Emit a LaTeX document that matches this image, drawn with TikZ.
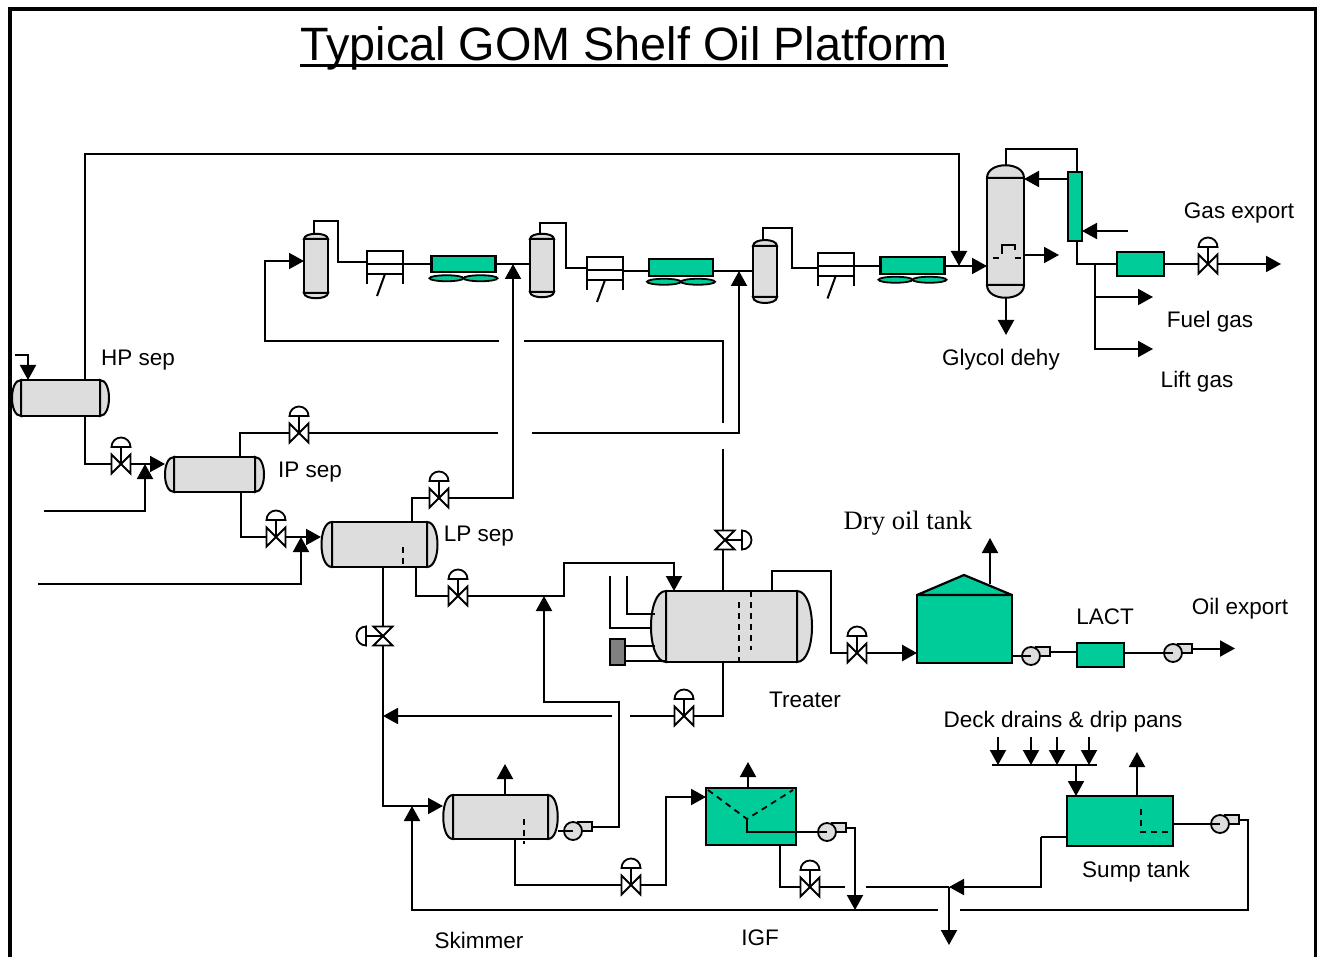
\documentclass[tikz,border=0pt]{standalone}
\usepackage{fontspec}
\setmainfont{Liberation Sans}
\newfontfamily\timesface{Liberation Serif}
\usetikzlibrary{arrows.meta, positioning, shapes.geometric}

\definecolor{vesselgray}{RGB}{221,221,221}
\definecolor{heatergray}{RGB}{128,128,128}
\definecolor{unitgreen}{RGB}{0,204,153}

\newcommand{\titleline}[1]{\setbox0\hbox{#1}\rlap{\rule[-6.5pt]{\wd0}{3pt}}\box0}

% name, position, width, height, head
\newcommand{\hdrum}[5]{
  \node[drum, minimum width=#3pt, minimum height=#4pt] (#1) at (#2) {};
  \draw[drumhead] (#1.north west) .. controls +(-#5,0) and +(-#5,0) .. (#1.south west) -- cycle;
  \draw[drumhead] (#1.north east) .. controls +(#5,0) and +(#5,0) .. (#1.south east) -- cycle;
}
\newcommand{\vdrum}[5]{
  \node[drum, minimum width=#3pt, minimum height=#4pt] (#1) at (#2) {};
  \draw[drumhead] (#1.north west) .. controls +(0,-#5) and +(0,-#5) .. (#1.north east) -- cycle;
  \draw[drumhead] (#1.south west) .. controls +(0,#5) and +(0,#5) .. (#1.south east) -- cycle;
}
% name, position, rotation of the actuator
\newcommand{\valve}[3]{
  \node[valvebody] (#1) at (#2) {};
  \draw[trim, fill=white, shift={(#2)}, rotate=#3] (-9.5,-9.5) -- (9.5,9.5) -- (9.5,-9.5) -- (-9.5,9.5) -- cycle;
  \draw[trim, shift={(#2)}, rotate=#3] (0,0) -- (0,-17);
  \draw[trim, fill=white, shift={(#2)}, rotate=#3] (9.5,-17) arc[start angle=0, end angle=180, radius=9.5pt] -- cycle;
}
\newcommand{\pump}[2]{
  \node[pumpcase, minimum width=14pt, minimum height=9pt, inner sep=0pt, rectangle] (#1-out) at (#2) [xshift=12pt, yshift=4.5pt] {};
  \node[pumpcase, circle, minimum size=18pt] (#1) at (#2) {};
}
\newcommand{\compressor}[2]{
  \node[stage] (#1) at (#2) {};
  \draw[pipe] ([yshift=-1.5pt]#1.west) -- ([yshift=-1.5pt]#1.east);
  \draw[pipe] (#1.south west) -- ++(0,10);
  \draw[pipe] (#1.south east) -- ++(0,10);
  \draw[pipe] (#1.south) -- ++(-8,22);
}
\newcommand{\cooler}[2]{
  \node[unit, minimum width=64pt, minimum height=16.5pt] (#1) at (#2) {};
  \node[fan, below=3pt of #1.south, xshift=-17pt] (#1-a) {};
  \node[fan, below=3pt of #1.south, xshift=17pt] (#1-b) {};
}

\begin{document}
\begin{tikzpicture}[
    x=1pt, y=-1pt,
    line join=miter,
    pipe/.style={line width=2pt},
    flow/.style={pipe, -{Triangle[length=15pt, width=16pt]}},
    trim/.style={line width=1.8pt},
    drum/.style={draw, fill=vesselgray, line width=2pt, inner sep=0pt, outer sep=0pt},
    drumhead/.style={draw, fill=vesselgray, line width=2pt},
    unit/.style={draw, fill=unitgreen, line width=2.2pt, inner sep=0pt, outer sep=0pt},
    fan/.style={draw, ellipse, fill=unitgreen, line width=1.8pt, minimum width=34pt, minimum height=6pt, inner sep=0pt, outer sep=0pt},
    stage/.style={draw, fill=white, line width=2pt, minimum width=36pt, minimum height=23pt, inner sep=0pt, outer sep=0pt},
    valvebody/.style={minimum width=19pt, minimum height=19pt, inner sep=0pt, outer sep=0pt},
    pumpcase/.style={draw, fill=vesselgray, line width=1.8pt, inner sep=0pt, outer sep=0pt},
    baffle/.style={line width=1.8pt, dash pattern=on 6pt off 5pt},
    tag/.style={font=\fontsize{22.5}{24}\selectfont, inner sep=0pt},
    frame/.style={line width=3.5pt}
]
\useasboundingbox (0,0) rectangle (1317,957);
\draw[frame] (10,957) -- (10,9) -- (1315.5,9) -- (1315.5,957);
\node[font=\fontsize{46.8}{50}\selectfont, inner sep=0pt] (title) at (624,48.5) {\titleline{Typical GOM Shelf Oil Platform}};

% vessels
\hdrum{hpsep}{60.5,398}{79}{36}{12}
\hdrum{ipsep}{214.5,474.5}{81}{35}{12}
\hdrum{lpsep}{379.5,544.5}{95}{45}{14}
\hdrum{treater}{731.5,626.5}{131}{71}{20}
\hdrum{skimmer}{500.5,817}{95}{44}{13}
\vdrum{scrubone}{316,266}{24}{54}{7}
\vdrum{scrubtwo}{542,265.5}{24}{53}{7}
\vdrum{scrubthree}{765,271.5}{24}{51}{8}
\vdrum{dehy}{1005.5,231.5}{37}{107}{17}

% compression train
\compressor{stageone}{385,262.5}
\compressor{stagetwo}{605,268.5}
\compressor{stagethree}{835.5,265}
\cooler{coolone}{463.5,264}
\cooler{cooltwo}{681,267.5}
\cooler{coolthree}{912.5,265.5}

% other units
\node[unit, minimum width=14pt, minimum height=69pt] (reflux) at (1075,206.5) {};
\node[unit, minimum width=47pt, minimum height=24pt] (gasbox) at (1140.5,264) {};
\node[unit, minimum width=95pt, minimum height=68pt] (tank) at (964.5,629) {};
\coordinate (roof) at (964,575);
\draw[unit, line join=bevel] (tank.north west) -- (roof) -- (tank.north east) -- cycle;
\node[unit, minimum width=47pt, minimum height=24pt] (lact) at (1100.5,655) {};
\node[unit, minimum width=90pt, minimum height=57pt] (igf) at (751,816.5) {};
\node[unit, minimum width=106pt, minimum height=50pt] (sump) at (1120,821) {};
\node[draw, fill=heatergray, line width=2.2pt, minimum width=15pt, minimum height=26pt, inner sep=0pt, outer sep=0pt] (heater) at (617.5,652) {};

% internals
\draw[baffle] (403,547) -- (403,567);
\draw[baffle] (739,602) -- (739,662);
\draw[baffle] (751,591) -- (751,650);
\draw[baffle] (524,819) -- (524,844);
\draw[baffle] (993,258) -- (1000,258);
\draw[baffle] (1015,258) -- (1022,258);
\draw[trim] (1002,254) -- (1002,245) -- (1015,245) -- (1015,250);
\draw[baffle] (1141,809) -- (1141,832) -- (1168,832);
\coordinate (igfcone) at (747,819);
\draw[baffle] (708,790) -- (igfcone) -- (793,790);

% valves and pumps
\valve{vhp}{121,464}{0}
\valve{vipgas}{299,433}{0}
\valve{vlpgas}{439,498}{0}
\valve{vipoil}{276,537}{0}
\valve{vlpoil}{458,596}{0}
\valve{vlpwater}{383,636}{90}
\valve{vtreatgas}{725,540}{-90}
\valve{vtreatwater}{684,716}{0}
\valve{vtreatoil}{857,653}{0}
\valve{vskim}{631,885}{0}
\valve{vigf}{810,887}{0}
\valve{vgas}{1208,264}{0}
\pump{pskim}{573,831}
\pump{pigf}{827,832}
\pump{ptank}{1031,656}
\pump{pexport}{1173,653}
\pump{psump}{1220,824}

% wellstream and separation
\coordinate (hpfeed) at (15,355);
\coordinate (hpfeedin) at (28,380);
\draw[flow] (hpfeed) -| (hpfeedin);
\coordinate (hpout) at (85,464);
\coordinate (ipin) at (165,464);
\draw[pipe] (hpsep.south -| hpout) -- (hpout) -- (vhp);
\draw[flow] (vhp) -- (ipin);
\coordinate (feedone) at (44,511);
\coordinate (feedonetee) at (145,464);
\draw[flow] (feedone) -| (feedonetee);
\coordinate (ipout) at (241,537);
\coordinate (lpin) at (321,537);
\draw[pipe] (ipsep.south -| ipout) -- (ipout) -- (vipoil);
\draw[flow] (vipoil) -- (lpin);
\coordinate (feedtwo) at (38,584);
\coordinate (feedtwotee) at (301,537);
\draw[flow] (feedtwo) -| (feedtwotee);

% gas lines
\coordinate (hptop) at (85,154);
\coordinate (dehytee) at (959,266);
\draw[flow] (hpsep.north -| hptop) -- (hptop) -| (dehytee);
\coordinate (ipgas) at (240,433);
\coordinate (ipgasend) at (498,433);
\coordinate (ipgasstart) at (532,433);
\coordinate (teetwo) at (739,271);
\draw[pipe] (ipsep.north -| ipgas) -- (ipgas) -- (vipgas);
\draw[pipe] (vipgas) -- (ipgasend);
\draw[flow] (ipgasstart) -| (teetwo);
\coordinate (lpgas) at (412,498);
\coordinate (teeone) at (513,264);
\draw[pipe] (lpsep.north -| lpgas) -- (lpgas) -- (vlpgas);
\draw[flow] (vlpgas) -| (teeone);
\coordinate (treatgas) at (723,449);
\coordinate (retone) at (723,423);
\coordinate (rettwo) at (524,341);
\coordinate (retthree) at (499,341);
\coordinate (retfour) at (265,261);
\draw[pipe] (treater.north -| treatgas) -- (vtreatgas.south -| treatgas);
\draw[pipe] (vtreatgas.north -| treatgas) -- (treatgas);
\draw[pipe] (retone) |- (rettwo);
\draw[flow] (retthree) -| (retfour) -- (scrubone.west |- retfour);

% compression
\coordinate (onehead) at (314,234);
\coordinate (oneover) at (338,221);
\coordinate (onein) at (338,262);
\draw[pipe] (onehead) |- (oneover) -- (onein) -- (stageone.west |- onein);
\draw[pipe] (stageone.east |- coolone) -- (coolone);
\draw[pipe] (coolone) -- (scrubtwo.west |- coolone);
\coordinate (twohead) at (540,234);
\coordinate (twoover) at (566,223);
\coordinate (twoin) at (566,268);
\draw[pipe] (twohead) |- (twoover) -- (twoin) -- (stagetwo.west |- twoin);
\draw[pipe] (stagetwo.east |- teetwo) -- (cooltwo.west |- teetwo);
\draw[pipe] (cooltwo.east |- teetwo) -- (scrubthree.west |- teetwo);
\coordinate (threehead) at (763,240);
\coordinate (threeover) at (792,228);
\coordinate (threein) at (792,268);
\draw[pipe] (threehead) |- (threeover) -- (threein) -- (stagethree.west |- threein);
\draw[pipe] (stagethree.east |- dehytee) -- (coolthree.west |- dehytee);
\draw[flow] (coolthree.east |- dehytee) -- (dehy.west |- dehytee);

% dehydration and export gas
\coordinate (dehytop) at (1006,165);
\coordinate (overhead) at (1077,149);
\coordinate (refluxin) at (1024,179);
\coordinate (coolin) at (1128,231);
\coordinate (dehyside) at (1059,255);
\coordinate (dehyend) at (1006,335);
\coordinate (dehybot) at (1006,298);
\draw[pipe] (dehytop) |- (overhead) -- (reflux.north -| overhead);
\draw[flow] (reflux.west |- refluxin) -- (refluxin);
\draw[flow] (coolin) -- (reflux.east |- coolin);
\draw[flow] (dehy.east |- dehyside) -- (dehyside);
\draw[flow] (dehybot) -- (dehyend);
\coordinate (gastee) at (1077,264);
\coordinate (gasbranch) at (1095,264);
\coordinate (gasout) at (1281,264);
\coordinate (fuel) at (1153,297);
\coordinate (lift) at (1153,349);
\draw[pipe] (reflux.south -| gastee) -- (gastee) -- (gasbox);
\draw[pipe] (gasbox) -- (vgas);
\draw[flow] (vgas) -- (gasout);
\draw[flow] (gasbranch) |- (lift);
\draw[flow] (gasbranch |- fuel) -- (fuel);

% oil to treater and tank
\coordinate (lpoil) at (416,596);
\coordinate (oilup) at (564,563);
\coordinate (treatin) at (674,591);
\draw[pipe] (lpsep.south -| lpoil) -- (lpoil) -- (vlpoil);
\draw[flow] (vlpoil) -| (oilup) -| (treatin);
\coordinate (inone) at (610,576);
\coordinate (inonehead) at (651,628);
\coordinate (intwo) at (627,576);
\coordinate (intwohead) at (655,614);
\coordinate (fireone) at (655,646);
\coordinate (firetwo) at (666,661);
\draw[pipe] (inone) |- (inonehead);
\draw[pipe] (intwo) |- (intwohead);
\draw[pipe] (heater.east |- fireone) -- (fireone);
\draw[pipe] (heater.east |- firetwo) -- (firetwo);
\coordinate (treatoil) at (772,571);
\coordinate (treatdown) at (831,653);
\draw[pipe] (treater.north -| treatoil) -- (treatoil) -| (treatdown) -- (vtreatoil);
\draw[flow, line width=2.8pt] (vtreatoil) -- (tank.west |- vtreatoil);
\coordinate (tankroof) at (990,584);
\coordinate (tankvent) at (990,538);
\draw[flow] (tankroof) -- (tankvent);
\draw[pipe] (tank.east |- ptank) -- (ptank.center);
\draw[pipe] (ptank-out.east) -- (lact.west |- ptank-out.east);
\draw[pipe] (lact.east |- pexport) -- (pexport.center);
\coordinate (oilout) at (1235,648.5);
\draw[flow] (pexport-out.east) -- (oilout);

% produced water
\coordinate (skimin) at (443,806);
\coordinate (lpwater) at (383,806);
\draw[pipe] (lpsep.south -| lpwater) -- (vlpwater);
\draw[flow] (vlpwater) |- (skimin);
\coordinate (treatwater) at (723,716);
\coordinate (wateracross) at (630,716);
\coordinate (waterback) at (612,716);
\coordinate (watertee) at (383,716);
\draw[pipe] (treater.south -| treatwater) -- (treatwater) -- (vtreatwater);
\draw[pipe] (vtreatwater) -- (wateracross);
\draw[flow] (waterback) -- (watertee);
\coordinate (skimout) at (558,831);
\coordinate (recycle) at (619,702);
\coordinate (recycletee) at (544,596);
\draw[pipe] (skimout) -- (pskim.center);
\draw[flow] (pskim-out.east) -| (recycle) -| (recycletee);
\coordinate (skimvent) at (505,764);
\draw[flow] (skimmer.north -| skimvent) -- (skimvent);
\coordinate (skimbot) at (515,885);
\coordinate (igfup) at (666,797);
\draw[pipe] (skimmer.south -| skimbot) -- (skimbot) -- (vskim);
\draw[flow] (vskim) -| (igfup) -- (igf.west |- igfup);
\coordinate (igfvent) at (748,762);
\draw[flow] (igf.north -| igfvent) -- (igfvent);
\draw[pipe] (igfcone) |- (pigf.center);
\coordinate (igftee) at (855,910);
\draw[flow] (pigf-out.east) -| (igftee);
\coordinate (igfbot) at (780,887);
\coordinate (igfend) at (845,887);
\draw[pipe] (igf.south -| igfbot) -- (igfbot) -- (vigf);
\draw[pipe] (vigf) -- (igfend);

% deck drains and sump
\coordinate (headerleft) at (992,765);
\coordinate (headerright) at (1097,765);
\draw[pipe] (headerleft) -- (headerright);
\foreach \n/\x in {a/998, b/1031, c/1057, d/1089}{
  \coordinate (drain\n) at (\x,737);
  \draw[flow] (drain\n) -- (drain\n |- headerleft);
}
\coordinate (headertee) at (1076,765);
\draw[flow] (headertee) -- (sump.north -| headertee);
\coordinate (sumpvent) at (1137,752);
\draw[flow] (sump.north -| sumpvent) -- (sumpvent);
\draw[pipe] (sump.east |- psump) -- (psump.center);
\coordinate (sumpdown) at (1248,910);
\coordinate (sumpback) at (960,910);
\coordinate (sumpcross) at (938,910);
\coordinate (skimtee) at (412,806);
\draw[pipe] (psump-out.east) -| (sumpdown) -- (sumpback);
\draw[flow] (sumpcross) -| (skimtee);
\coordinate (sumpleft) at (1041,837);
\coordinate (overtee) at (949,887);
\coordinate (overleft) at (866,887);
\coordinate (overout) at (949,945);
\draw[pipe] (sump.west |- sumpleft) -- (sumpleft);
\draw[flow] (sumpleft) |- (overtee);
\draw[pipe] (overtee) -- (overleft);
\draw[flow] (overtee) -- (overout);

% labels
\node[tag] (hplabel) at (138,360) {HP sep};
\node[tag] (iplabel) at (310,472) {IP sep};
\node[tag] (lplabel) at (479,536) {LP sep};
\node[tag] (gaslabel) at (1239,213) {Gas export};
\node[tag] (fuellabel) at (1210,322) {Fuel gas};
\node[tag] (liftlabel) at (1197,382) {Lift gas};
\node[tag] (dehylabel) at (1001,360) {Glycol dehy};
\node[tag] (treatlabel) at (805,700) {Treater};
\node[tag] (lactlabel) at (1105,617) {LACT};
\node[tag] (oillabel) at (1240,609) {Oil export};
\node[tag] (decklabel) at (1063,722) {Deck drains \& drip pans};
\node[tag] (sumplabel) at (1136,872) {Sump tank};
\node[tag] (skimlabel) at (479,940) {Skimmer};
\node[tag] (igflabel) at (760,938) {IGF};
\node[tag, font=\timesface\fontsize{26.6}{29}\selectfont] (tanklabel) at (908,523) {Dry oil tank};
\end{tikzpicture}
\end{document}
